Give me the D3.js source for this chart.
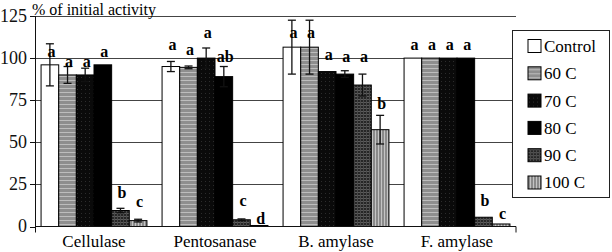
<!doctype html>
<html>
<head>
<meta charset="utf-8">
<script src="https://d3js.org/d3.v7.min.js"></script>
</head>
<body style="margin:0">
<script>
const categories = ["Cellulase", "Pentosanase", "B. amylase", "F. amylase"];
const series = ["Control", "60 C", "70 C", "80 C", "90 C", "100 C"];

// % of initial activity, one array per enzyme (order follows series)
const cellulase   = [96, 90, 90, 96, 9.5, 3.5];
const pentosanase = [95, 94.5, 100, 89, 4, 0.6];
const bAmylase    = [106.5, 106.5, 92, 90.5, 84, 57.5];
const fAmylase    = [100, 100, 100, 100, 5.5, 1.5];

// error bar half widths
const cellulaseErr   = [12.5, 5, 4, 0, 1.3, 0.8];
const pentosanaseErr = [3, 0.8, 6, 6, 0.5, 0];
const bAmylaseErr    = [16, 16, 0, 2, 6.5, 8.5];
const fAmylaseErr    = [0, 0, 0, 0, 0, 0];

// significance letters and the height (in %) they sit at
const cellulaseLetters   = ["a", "a", "a", "a", "b", "c"];
const pentosanaseLetters = ["a", "a", "a", "ab", "c", "d"];
const bAmylaseLetters    = ["a", "a", "a", "a", "a", "b"];
const fAmylaseLetters    = ["a", "a", "a", "a", "b", "c"];
const cellulaseLetterAt   = [103.6, 97.7, 97.7, 103.6, 19.9, 14.5];
const pentosanaseLetterAt = [107.8, 105, 115, 100.6, 15, 4.5];
const bAmylaseLetterAt    = [115, 115, 102, 100.6, 100.6, 73];
const fAmylaseLetterAt    = [107.8, 107.8, 107.8, 107.8, 15.5, 7.6];

const yTicks = [0, 25, 50, 75, 100, 125];

const values = [cellulase, pentosanase, bAmylase, fAmylase];
const errors = [cellulaseErr, pentosanaseErr, bAmylaseErr, fAmylaseErr];
const letters = [cellulaseLetters, pentosanaseLetters, bAmylaseLetters, fAmylaseLetters];
const letterAt = [cellulaseLetterAt, pentosanaseLetterAt, bAmylaseLetterAt, fAmylaseLetterAt];

const w = 612, h = 252;
const left = 35, right = 516;

const svg = d3.select("body").append("svg")
    .attr("width", w)
    .attr("height", h);

// fills: white, striped greys, black, dark grid
const defs = svg.append("defs");
const p60 = defs.append("pattern").attr("id", "p60").attr("patternUnits", "userSpaceOnUse")
    .attr("width", 4).attr("height", 4);
p60.append("rect").attr("width", 4).attr("height", 4).attr("fill", "#8e8e8e");
p60.append("rect").attr("width", 4).attr("height", 1).attr("fill", "#bdbdbd");

const p70 = defs.append("pattern").attr("id", "p70").attr("patternUnits", "userSpaceOnUse")
    .attr("width", 4).attr("height", 4);
p70.append("rect").attr("width", 4).attr("height", 4).attr("fill", "#0a0a0a");
p70.append("rect").attr("x", 1).attr("y", 1).attr("width", 1).attr("height", 1).attr("fill", "#2c2c2c");

const p90 = defs.append("pattern").attr("id", "p90").attr("patternUnits", "userSpaceOnUse")
    .attr("width", 3).attr("height", 3);
p90.append("rect").attr("width", 3).attr("height", 3).attr("fill", "#262626");
p90.append("rect").attr("width", 3).attr("height", 1).attr("fill", "#5c5c5c");
p90.append("rect").attr("width", 1).attr("height", 3).attr("fill", "#4a4a4a");

const p100 = defs.append("pattern").attr("id", "p100").attr("patternUnits", "userSpaceOnUse")
    .attr("width", 3).attr("height", 3);
p100.append("rect").attr("width", 3).attr("height", 3).attr("fill", "#8a8a8a");
p100.append("rect").attr("width", 1).attr("height", 3).attr("fill", "#c4c4c4");

const fills = ["#fff", "url(#p60)", "url(#p70)", "#000", "url(#p90)", "url(#p100)"];
const color = d3.scaleOrdinal().domain(series).range(fills);

const y = d3.scaleLinear().domain([0, 125]).range([226.5, 16]);
const x0 = d3.scaleBand().domain(categories).range([33.5, 517.5])
    .paddingInner(0.125).paddingOuter(0.0625);
const x1 = d3.scaleBand().domain(series).range([0, x0.bandwidth()]);

// horizontal grid
svg.append("g").selectAll("line")
    .data(yTicks.filter(d => d > 0))
    .enter().append("line")
    .attr("stroke", "#444")
    .attr("x1", left).attr("x2", right)
    .attr("y1", d => Math.round(y(d)) + 0.5)
    .attr("y2", d => Math.round(y(d)) + 0.5);

// flatten into one record per bar
const rows = [];
categories.forEach((c, i) => {
    series.forEach((s, j) => {
        rows.push({cat: c, s: s, v: values[i][j], e: errors[i][j], l: letters[i][j], la: letterAt[i][j]});
    });
});

svg.append("g").selectAll("rect")
    .data(rows)
    .enter().append("rect")
    .attr("x", d => x0(d.cat) + x1(d.s))
    .attr("y", d => y(d.v))
    .attr("width", x1.bandwidth())
    .attr("height", d => y(0) - y(d.v))
    .attr("fill", d => color(d.s))
    .attr("stroke", "#000")
    .attr("stroke-width", 1);

// error bars
const eb = svg.append("g").attr("stroke", "#111").attr("stroke-width", 1.3);
rows.filter(d => d.e > 0).forEach(d => {
    const cx = x0(d.cat) + x1(d.s) + x1.bandwidth() / 2;
    eb.append("line").attr("x1", cx).attr("x2", cx).attr("y1", y(d.v - d.e)).attr("y2", y(d.v + d.e));
    eb.append("line").attr("x1", cx - 4).attr("x2", cx + 4).attr("y1", y(d.v - d.e)).attr("y2", y(d.v - d.e));
    eb.append("line").attr("x1", cx - 4).attr("x2", cx + 4).attr("y1", y(d.v + d.e)).attr("y2", y(d.v + d.e));
});

// a serif text helper, same form as a plain inline style
function serifText(sel, size) {
    return sel.style("font-family", "'Liberation Serif'").style("font-size", size + "px");
}

// letters
serifText(svg.append("g").selectAll("text")
    .data(rows)
    .enter().append("text")
    .attr("x", d => x0(d.cat) + x1(d.s) + x1.bandwidth() / 2 + 1.5)
    .attr("y", d => y(d.la))
    .attr("dy", "0.32em")
    .attr("text-anchor", "middle")
    .style("font-weight", "bold")
    .text(d => d.l), 16);

// y axis, labels drawn by hand so the font sticks
const ya = svg.append("g");
ya.selectAll("line")
    .data(yTicks)
    .enter().append("line")
    .attr("x1", left - 5).attr("x2", left)
    .attr("y1", d => Math.round(y(d)) + 0.5).attr("y2", d => Math.round(y(d)) + 0.5)
    .attr("stroke", "#111");
serifText(ya.selectAll("text")
    .data(yTicks)
    .enter().append("text")
    .attr("x", left - 8)
    .attr("y", d => y(d))
    .attr("dy", "0.32em")
    .attr("text-anchor", "end")
    .attr("fill", "#111")
    .text(d => d), 18);
svg.append("line").attr("x1", left + 0.5).attr("x2", left + 0.5)
    .attr("y1", y(125)).attr("y2", y(0) + 6).attr("stroke", "#111");

// x axis
svg.append("line").attr("x1", left).attr("x2", right)
    .attr("y1", y(0)).attr("y2", y(0)).attr("stroke", "#111").attr("stroke-width", 1.2);
svg.append("line").attr("x1", right).attr("x2", right)
    .attr("y1", y(0)).attr("y2", y(0) + 6).attr("stroke", "#111");
serifText(svg.append("g").selectAll("text")
    .data(categories)
    .enter().append("text")
    .attr("x", d => x0(d) + x0.bandwidth() / 2)
    .attr("y", 247)
    .attr("text-anchor", "middle")
    .text(d => d), 17);

// axis title
serifText(svg.append("text").attr("x", 32).attr("y", 14.5)
    .text("% of initial activity"), 16);

// legend
const lg = svg.append("g").attr("transform", "translate(512,30)");
lg.append("rect").attr("x", 0.5).attr("y", 0.5).attr("width", 97).attr("height", 167)
    .attr("fill", "#fff").attr("stroke", "#222");
const item = lg.selectAll(".item")
    .data(series)
    .enter().append("g")
    .attr("transform", (d, i) => "translate(0," + (16 + i * 27.3) + ")");
item.append("rect")
    .attr("x", 16).attr("y", -6.5).attr("width", 13).attr("height", 13)
    .attr("fill", d => color(d)).attr("stroke", "#000");
serifText(item.append("text")
    .attr("x", 32).attr("dy", "0.35em")
    .text(d => d), 17);
</script>
</body>
</html>
